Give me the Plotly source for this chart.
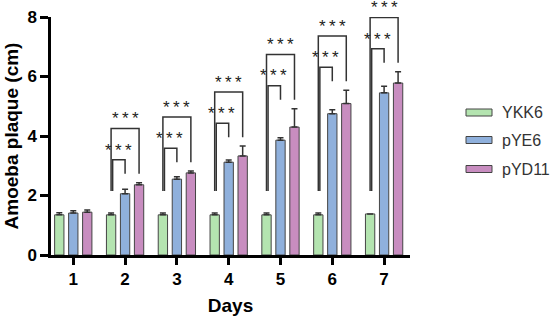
import plotly.graph_objects as go

days = [1, 2, 3, 4, 5, 6, 7]
series = ["YKK6", "pYE6", "pYD11"]
ykk6 = [1.35, 1.35, 1.35, 1.35, 1.35, 1.35, 1.38]
ykk6_err = [0.07, 0.06, 0.06, 0.06, 0.06, 0.06, 0.0]
pye6 = [1.41, 2.06, 2.55, 3.12, 3.86, 4.75, 5.45]
pye6_err = [0.08, 0.15, 0.08, 0.07, 0.08, 0.13, 0.22]
pyd11 = [1.44, 2.36, 2.76, 3.33, 4.30, 5.09, 5.78]
pyd11_err = [0.07, 0.07, 0.06, 0.33, 0.62, 0.45, 0.38]
sig_days = [2, 3, 4, 5, 6, 7]
sig_label = "*\u2009*\u2009*"
y_ticks = [0, 2, 4, 6, 8]

colors = ["#b4e4b0", "#8fb0dc", "#c88dc0"]
edge = "#444444"
offsets = [-0.27, 0.0, 0.27]
bw = 0.18
y_max = 8

fig = go.Figure()
vals = [ykk6, pye6, pyd11]
errs = [ykk6_err, pye6_err, pyd11_err]
for i in range(3):
    fig.add_trace(go.Bar(
        x=[d + offsets[i] for d in days], y=vals[i], width=bw, name=series[i],
        marker=dict(color=colors[i], line=dict(color=edge, width=1)),
        error_y=dict(type="data", symmetric=False, array=errs[i],
                     arrayminus=[0] * len(days), color="#333333", thickness=1.5, width=3),
        showlegend=False,
    ))

shapes = []
annotations = []
lc = dict(color="#333333", width=1.5)
afont = dict(family="Arial", size=17, color="#222")
for d in sig_days:
    k = d - 1
    tops = [vals[j][k] + errs[j][k] for j in range(3)]
    leg_low = 2.15
    leg_bottom = max(tops) + 0.3
    inner_top = leg_bottom + 0.47
    outer_top = inner_top + 1.05
    xg = d + offsets[0]
    xb = d + offsets[1]
    xp = d + offsets[2]
    shapes.append(dict(type="path", xref="x", yref="y", line=lc,
                       path=f"M {xg+0.03},{leg_low} L {xg+0.03},{inner_top} L {xb},{inner_top} L {xb},{leg_bottom}"))
    shapes.append(dict(type="path", xref="x", yref="y", line=lc,
                       path=f"M {xg},{leg_low} L {xg},{outer_top} L {xp},{outer_top} L {xp},{leg_bottom}"))
    annotations.append(dict(x=(xg + xb) / 2, y=(inner_top + 0.43) / y_max, xref="x", yref="paper", text=sig_label,
                            showarrow=False, font=afont, yanchor="middle", yshift=-3))
    annotations.append(dict(x=(xg + xp) / 2, y=(outer_top + 0.43) / y_max, xref="x", yref="paper", text=sig_label,
                            showarrow=False, font=afont, yanchor="middle", yshift=-3))

plot_l, plot_r, plot_t, plot_b = 51, 410, 17, 255
pw, ph = plot_r - plot_l, plot_b - plot_t
leg_y = [112.5, 140, 169]
for i in range(3):
    yc = (plot_b - leg_y[i]) / ph
    shapes.append(dict(type="rect", xref="paper", yref="paper",
                       x0=(466 - plot_l) / pw, x1=(492 - plot_l) / pw,
                       y0=yc - 3.5 / ph, y1=yc + 3.5 / ph,
                       fillcolor=colors[i], line=dict(color=edge, width=1)))
    annotations.append(dict(x=(500 - plot_l) / pw, y=yc, xref="paper", yref="paper", text=series[i],
                            showarrow=False, xanchor="left", yanchor="middle",
                            font=dict(family="Arial", size=16, color="#333")))

fig.update_layout(
    width=552, height=321,
    margin=dict(l=plot_l, r=552 - plot_r, t=plot_t, b=321 - plot_b),
    paper_bgcolor="white", plot_bgcolor="white",
    shapes=shapes, annotations=annotations,
    font=dict(family="Arial", color="black"),
)
fig.update_xaxes(range=[0.57, 7.5], tickvals=days, ticktext=[f"<b>{d}</b>" for d in days],
                 showline=True, linecolor="black", linewidth=2.5, ticks="outside",
                 ticklen=7, tickwidth=2.5, tickcolor="black", showgrid=False, zeroline=False,
                 automargin=False,
                 tickfont=dict(family="Arial", size=17, color="black"),
                 title=dict(text="<b>Days</b>", font=dict(family="Arial", size=19, color="black"), standoff=11))
fig.update_yaxes(range=[0, y_max], tickvals=y_ticks, ticktext=[f"<b>{v}</b>" for v in y_ticks],
                 showline=True, linecolor="black", linewidth=2.5, ticks="outside",
                 ticklen=8, tickwidth=2.5, tickcolor="black", showgrid=False, zeroline=False,
                 automargin=False,
                 tickfont=dict(family="Arial", size=17, color="black"),
                 title=dict(text="<b>Amoeba plaque (cm)</b>", font=dict(family="Arial", size=19, color="black"), standoff=4))

fig.write_html("out.html")
